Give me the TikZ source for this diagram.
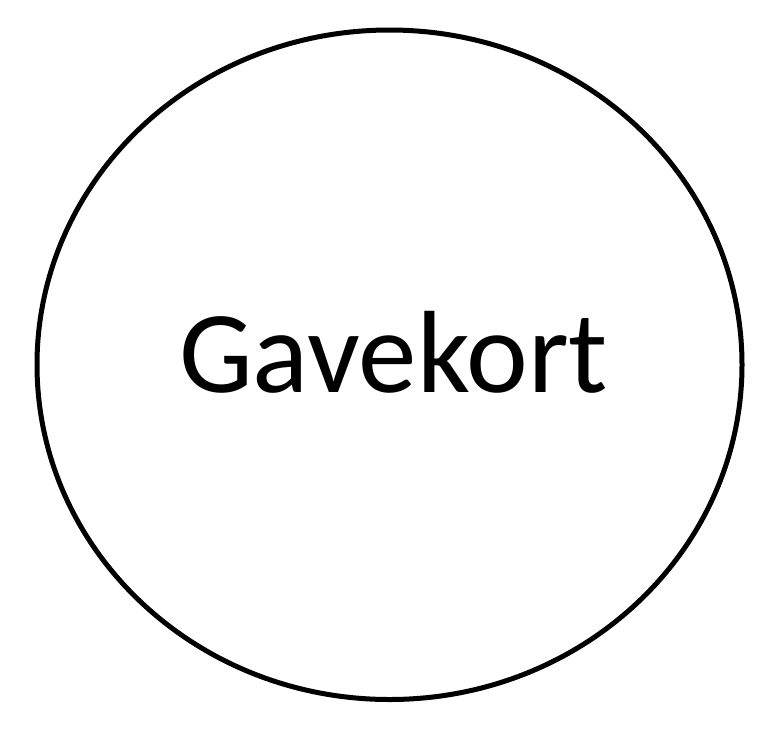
\documentclass[tikz,border=0pt]{standalone}
\usepackage{fontspec}
\setmainfont{Carlito}
\usetikzlibrary{shapes.geometric}
\begin{document}
\begin{tikzpicture}[x=1pt,y=1pt,
  bubble/.style={draw=black,line width=5pt,ellipse,minimum width=705pt,minimum height=669.5pt,inner sep=0pt},
  label/.style={font=\fontsize{117}{140}\selectfont,anchor=base,inner sep=0pt}]
\useasboundingbox (0,0) rectangle (784,-740);
\node[bubble] (circ) at (389.5,-364.75) {};
\node[label] (txt) at (393.5,-392) {Gavekort};
\end{tikzpicture}
\end{document}
